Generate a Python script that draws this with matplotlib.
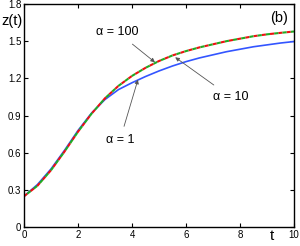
import matplotlib
matplotlib.use("Agg")
import matplotlib.pyplot as plt

t = [0, 0.5, 1, 1.5, 2, 2.5, 3, 3.5, 4, 4.5, 5, 5.5, 6, 6.5, 7, 7.5, 8, 8.5, 9, 9.5, 10]
z_a1 = [0.25, 0.345, 0.47, 0.62, 0.78, 0.92, 1.03, 1.11, 1.165, 1.215, 1.26, 1.30, 1.335, 1.365,
        1.39, 1.415, 1.435, 1.455, 1.47, 1.485, 1.497]
z_a10 = [0.25, 0.335, 0.46, 0.61, 0.77, 0.915, 1.04, 1.14, 1.22, 1.285, 1.34, 1.385, 1.42, 1.45,
         1.475, 1.50, 1.52, 1.54, 1.555, 1.567, 1.578]
z_a100 = [0.25, 0.335, 0.46, 0.61, 0.77, 0.915, 1.04, 1.14, 1.22, 1.285, 1.34, 1.385, 1.42, 1.45,
          1.475, 1.50, 1.52, 1.54, 1.555, 1.567, 1.578]
xticks = [0, 2, 4, 6, 8, 10]
yticks = [0, 0.3, 0.6, 0.9, 1.2, 1.5, 1.8]
ytick_labels = ["0", "0.3", "0.6", "0.9", "1.2", "1.5", "1.8"]

plt.rcParams['font.family'] = ['Liberation Sans', 'DejaVu Sans']
fig = plt.figure(figsize=(3.0, 2.46), dpi=100)
ax = fig.add_axes([0.08, 0.076, 0.90, 0.908])

ax.plot(t, z_a1, color='#3355ff', lw=1.2, ls='-')
ax.plot(t, z_a10, color='#ee1111', lw=1.5, ls=(0, (2.0, 2.0)))
ax.plot(t, z_a100, color='#22aa22', lw=1.5, ls=(2.0, (2.0, 2.0)))

ax.set_xlim(0, 10)
ax.set_ylim(0, 1.8)
ax.set_xticks(xticks)
ax.set_yticks(yticks)
ax.set_yticklabels(ytick_labels)
ax.tick_params(direction='in', top=True, right=True, labelsize=7, length=3, width=0.8, pad=2)
for s in ax.spines.values():
    s.set_linewidth(1.0)

arrow = dict(arrowstyle='-|>', color='#555555', lw=0.6, mutation_scale=6, shrinkA=4, shrinkB=0)
ax.annotate('α = 100', xy=(4.85, 1.33), xytext=(3.45, 1.575), fontsize=9, ha='center', va='center', arrowprops=arrow)
ax.annotate('α = 10', xy=(5.6, 1.37), xytext=(7.65, 1.05), fontsize=9, ha='center', va='center', arrowprops=arrow)
ax.annotate('α = 1', xy=(4.22, 1.19), xytext=(3.55, 0.70), fontsize=9, ha='center', va='center', arrowprops=arrow)

ax.text(9.45, 1.69, '(b)', fontsize=10.5, ha='center', va='center')
fig.text(0.04, 0.915, 'z(t)', fontsize=10.5, ha='center', va='center')
fig.text(0.905, 0.04, 't', fontsize=11, ha='center', va='center')

fig.savefig('out.png', dpi=100)
